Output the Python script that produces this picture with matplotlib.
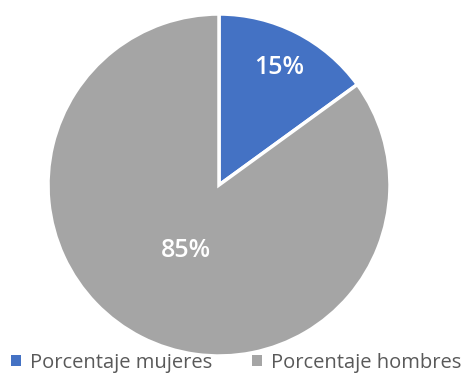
import numpy as np
import matplotlib.pyplot as plt
from matplotlib.patches import Patch

labels = ['Porcentaje mujeres', 'Porcentaje hombres']
values = [15, 85]
colors = ['#4472C4', '#A5A5A5']
pct_dist = [0.77, 0.43]

plt.rcParams['font.family'] = ['Open Sans', 'DejaVu Sans']

fig = plt.figure(figsize=(4.63, 3.74), dpi=100)
ax = fig.add_axes([48 / 463, 18 / 374, 342 / 463, 342 / 374])

wedges, _ = ax.pie(values, colors=colors, startangle=90, counterclock=False,
                   radius=1, wedgeprops=dict(edgecolor='white', linewidth=2.5))
ax.set_xlim(-1, 1)
ax.set_ylim(-1, 1)
ax.set_aspect('auto')
ax.axis('off')

total = float(sum(values))
for w, v, d in zip(wedges, values, pct_dist):
    mid = np.deg2rad((w.theta1 + w.theta2) / 2)
    ax.text(d * np.cos(mid), d * np.sin(mid), '%d%%' % round(100 * v / total),
            ha='center', va='center', color='white', fontsize=18, fontweight='semibold')

handles = [Patch(facecolor=c, edgecolor='none') for c in colors]
fig.legend(handles, labels, loc='lower center', bbox_to_anchor=(0.51, -0.045), ncol=2,
           frameon=False, fontsize=14.5, labelcolor='#595959', handlelength=0.5,
           handleheight=0.5, handletextpad=0.45, columnspacing=2.0)

fig.savefig('out.png', dpi=100)
